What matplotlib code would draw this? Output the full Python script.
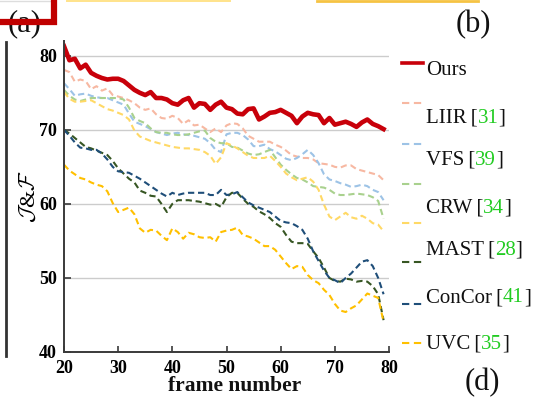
import matplotlib
matplotlib.use("Agg")
import matplotlib.pyplot as plt
from matplotlib.lines import Line2D

plt.rcParams['font.family'] = ['Liberation Serif', 'DejaVu Serif']
plt.rcParams['mathtext.fontset'] = 'cm'

frames = list(range(20, 80))

ours = [81.3, 79.4, 79.6, 78.3, 78.8, 77.7, 77.3, 77.0, 76.8, 76.9,
        76.9, 76.6, 76.0, 75.4, 75.0, 74.7, 75.1, 74.3, 74.3, 74.1,
        73.6, 73.4, 74.0, 74.3, 73.0, 73.6, 73.5, 72.7, 73.4, 73.8,
        73.0, 72.8, 72.2, 72.1, 72.8, 72.9, 71.4, 71.8, 72.3, 72.4,
        72.7, 72.3, 71.9, 70.9, 71.8, 72.3, 72.1, 72.0, 70.9, 71.6,
        70.7, 70.9, 71.1, 70.8, 70.4, 71.0, 71.4, 70.8, 70.5, 70.1]

liir = [78.1, 77.8, 76.5, 76.8, 76.6, 75.5, 75.9, 75.3, 75.6, 74.7,
        74.5, 74.3, 74.0, 73.6, 73.0, 72.7, 72.9, 72.1, 71.6, 71.5,
        71.9, 71.6, 70.8, 71.3, 70.6, 70.7, 70.2, 69.7, 70.2, 69.7,
        70.6, 70.9, 70.8, 70.2, 69.2, 68.8, 68.4, 68.4, 68.4, 68.0,
        67.7, 67.2, 66.6, 66.4, 66.2, 66.2, 66.0, 65.5, 65.4, 65.3,
        65.0, 64.9, 65.2, 65.2, 64.7, 64.5, 64.3, 64.1, 63.9, 63.2]

vfs = [76.3, 75.5, 74.6, 74.8, 74.9, 74.6, 74.4, 74.3, 74.3, 74.0,
       73.7, 73.4, 72.2, 71.1, 70.8, 70.5, 70.1, 69.7, 69.5, 69.3,
       69.5, 69.6, 69.4, 69.3, 69.2, 69.0, 68.8, 68.2, 67.3, 67.0,
       69.4, 69.6, 69.6, 69.3, 68.7, 67.8, 67.8, 68.0, 67.4, 67.1,
       66.6, 66.1, 65.9, 66.2, 66.7, 67.3, 66.6, 65.5, 64.0, 63.3,
       63.1, 62.8, 62.6, 62.3, 62.4, 62.6, 62.4, 61.9, 61.6, 60.5]

crw = [75.4, 74.6, 74.1, 73.9, 74.1, 74.3, 74.3, 74.3, 74.3, 74.3,
       74.3, 74.1, 73.0, 71.6, 71.2, 70.9, 70.2, 69.7, 69.6, 69.6,
       69.4, 69.3, 69.3, 69.4, 69.6, 69.8, 69.9, 68.9, 68.4, 68.2,
       68.2, 67.7, 67.6, 67.2, 66.8, 66.6, 66.7, 67.0, 67.3, 66.3,
       65.3, 64.6, 64.0, 63.5, 63.3, 62.9, 62.4, 62.3, 62.2, 61.9,
       61.4, 61.2, 61.2, 61.3, 61.4, 61.3, 61.2, 60.9, 60.4, 58.0]

pale = [75.1, 74.2, 73.8, 73.8, 73.9, 74.0, 73.6, 73.2, 72.8, 72.6,
        72.3, 72.0, 71.4, 69.9, 69.1, 68.8, 68.5, 68.3, 68.1, 67.9,
        67.7, 67.6, 67.5, 67.5, 67.4, 67.3, 67.0, 66.5, 65.4, 66.3,
        68.2, 67.9, 67.5, 67.0, 66.5, 66.2, 66.2, 66.2, 66.5, 65.8,
        65.0, 64.1, 63.6, 63.2, 63.4, 63.6, 63.0, 61.9, 59.9, 58.3,
        57.8, 58.3, 58.8, 58.2, 58.0, 58.4, 58.0, 57.4, 57.2, 56.3]

mast = [70.0, 69.5, 68.9, 68.3, 67.7, 67.5, 67.2, 66.9, 66.6, 65.8,
        64.8, 64.1, 63.4, 62.9, 61.8, 61.5, 61.1, 61.0, 60.0, 58.9,
        60.0, 60.5, 60.5, 60.5, 60.4, 60.3, 60.1, 59.9, 60.0, 59.6,
        60.9, 61.5, 61.5, 60.7, 60.0, 59.6, 59.0, 58.6, 58.1, 57.4,
        56.9, 55.8, 54.9, 54.7, 54.7, 54.6, 53.6, 52.7, 51.4, 50.0,
        49.6, 49.5, 49.9, 49.8, 49.5, 49.6, 49.5, 48.9, 47.8, 44.3]

concor = [70.0, 69.2, 68.3, 67.6, 67.5, 67.3, 67.3, 66.8, 66.0, 65.0,
          64.4, 64.3, 64.2, 63.8, 63.4, 62.9, 62.4, 61.9, 61.4, 61.0,
          61.5, 61.2, 61.4, 61.5, 61.5, 61.5, 61.5, 61.2, 61.2, 61.9,
          61.2, 61.3, 61.6, 60.9, 60.2, 59.8, 59.5, 59.2, 58.9, 58.3,
          57.7, 57.5, 57.4, 57.0, 56.5, 55.3, 53.6, 52.3, 51.0, 50.0,
          49.7, 49.3, 50.0, 50.6, 51.4, 52.2, 52.4, 51.6, 50.0, 47.8]

uvc = [65.3, 64.5, 64.0, 63.5, 63.3, 62.9, 62.6, 62.4, 61.7, 60.1,
       58.9, 59.2, 59.5, 58.6, 56.7, 56.1, 56.5, 56.4, 55.7, 55.1,
       56.7, 56.2, 55.3, 56.1, 55.9, 55.5, 55.4, 55.5, 54.9, 56.2,
       56.4, 56.5, 56.8, 55.8, 55.6, 55.3, 54.8, 54.3, 54.3, 53.8,
       52.9, 52.0, 51.2, 51.6, 51.5, 50.4, 49.7, 49.3, 48.4, 47.7,
       46.5, 45.6, 45.4, 45.9, 46.3, 47.1, 47.9, 47.6, 47.3, 44.1]

names = ["Ours", "LIIR", "VFS", "CRW", "MAST", "ConCor", "UVC"]
refs = ["", "31", "39", "34", "28", "41", "35"]

dashed_series = [liir, vfs, crw, pale, mast, concor, uvc]
dashed_colors = ['#F7B8A2', '#9DC3E6', '#A9D18E', '#FFD966',
                 '#375623', '#1F4E79', '#FFC000']
red = '#C8000A'

W, H = 533, 397
fig = plt.figure(figsize=(W / 100, H / 100), dpi=100)


def fx(x):
    return x / W


def fy(y):
    return 1 - y / H


ax = fig.add_axes([fx(64), fy(352), fx(389) - fx(64), fy(41) - fy(352)])

for s, c in zip(dashed_series, dashed_colors):
    ax.plot(frames, s, color=c, lw=1.5, dashes=(3.0, 1.8))
ax.plot(frames, ours, color=red, lw=3.3, solid_joinstyle='round')

ax.set_xlim(20, 80)
ax.set_ylim(40, 82)
ax.set_xticks([20, 30, 40, 50, 60, 70, 80])
ax.set_yticks([40, 50, 60, 70, 80])
ax.yaxis.grid(True, color='#cccccc', lw=1.0)
ax.set_axisbelow(True)
for sp in ['top', 'right']:
    ax.spines[sp].set_visible(False)
for sp in ['left', 'bottom']:
    ax.spines[sp].set_color('#3a3a3a')
    ax.spines[sp].set_linewidth(1.4)
ax.tick_params(axis='x', direction='in', length=4, width=1.2, color='#3a3a3a',
               labelsize=13, pad=5.5)
ax.tick_params(axis='y', direction='in', length=5, width=1.2, color='#3a3a3a',
               labelsize=13, pad=5)
for lab in ax.get_xticklabels() + ax.get_yticklabels():
    lab.set_fontweight('bold')

# x-axis title
fig.text(fx(235), fy(391), "frame number", fontsize=15.5, fontweight='bold',
         ha='center', va='baseline', color='#111111')

fig.text(fx(30), fy(197), r'$\mathcal{J}$&$\mathcal{F}$', rotation=90,
         ha='center', va='center', fontsize=16)

# legend (manual placement)
handle_y = [62.5, 103, 144, 184, 223, 262, 304, 343]
handle_colors = [red] + dashed_colors
for i, (hy, hc) in enumerate(zip(handle_y, handle_colors)):
    if i == 0:
        fig.add_artist(Line2D([fx(402), fx(423)], [fy(hy), fy(hy)], color=hc,
                              lw=2.6, transform=fig.transFigure))
    else:
        fig.add_artist(Line2D([fx(402), fx(423)], [fy(hy), fy(hy)], color=hc,
                              lw=1.5, dashes=(3.5, 2.2),
                              transform=fig.transFigure))

text_base = [75, 123, 165, 213, 255, 302, 349]
green = '#22CC22'
for name, ref, yb in zip(names, refs, text_base):
    if ref:
        t1 = fig.text(fx(426), fy(yb), name + "\u2009[", fontsize=15,
                      va='baseline', ha='left', color='#111111')
        a1 = ax.annotate(ref, xy=(1, 0), xycoords=t1, xytext=(0, 0),
                         textcoords='offset points', fontsize=15,
                         va='bottom', ha='left', color=green,
                         annotation_clip=False)
        ax.annotate("]", xy=(1, 0), xycoords=a1, xytext=(0, 0),
                    textcoords='offset points', fontsize=15,
                    va='bottom', ha='left', color='#111111',
                    annotation_clip=False)
    else:
        fig.text(fx(426), fy(yb), name, fontsize=15, va='baseline',
                 ha='left', color='#111111')

# surrounding figure decorations
fig.add_artist(Line2D([fx(6), fx(6)], [fy(42), fy(356)], color='#333333',
                      lw=2.0, transform=fig.transFigure))
fig.text(fx(25), fy(24), "(a)", fontsize=22, ha='center', va='center',
         color='#111111', zorder=1)
fig.add_artist(Line2D([fx(0), fx(53.5), fx(53.5)], [fy(22), fy(22), fy(0)],
                      color='#C00000', lw=4.5, solid_joinstyle='miter',
                      transform=fig.transFigure, zorder=5))
fig.add_artist(Line2D([fx(0), fx(50)], [fy(1), fy(1)], color='#dddddd',
                      lw=1.0, transform=fig.transFigure))
fig.add_artist(Line2D([fx(67), fx(230)], [fy(0.8), fy(0.8)], color='#FFE38A',
                      lw=1.4, transform=fig.transFigure))
fig.add_artist(Line2D([fx(317), fx(478)], [fy(1.2), fy(1.2)], color='#F6C343',
                      lw=2.0, transform=fig.transFigure))
fig.text(fx(473), fy(25), "(b)", fontsize=22, ha='center', va='center',
         color='#111111')
fig.text(fx(482), fy(383), "(d)", fontsize=22, ha='center', va='center',
         color='#111111')

fig.savefig("out.png", dpi=100)
